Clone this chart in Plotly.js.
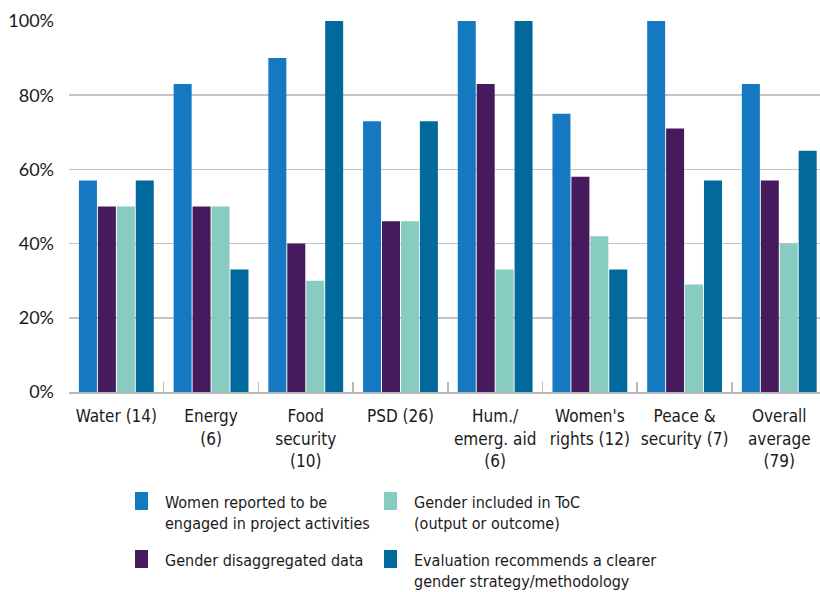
<!DOCTYPE html>
<html>
<head>
<meta charset="utf-8">
<script src="https://cdn.plot.ly/plotly-3.0.1.min.js"></script>
<style>html,body{margin:0;padding:0;background:#fff;overflow:hidden}</style>
</head>
<body>
<div id="chart" style="width:820px;height:592px"></div>
<script>
const categories = ["Water (14)", "Energy<br>(6)", "Food<br>security<br>(10)", "PSD (26)", "Hum./<br>emerg. aid<br>(6)", "Women's<br>rights (12)", "Peace &<br>security (7)", "Overall<br>average<br>(79)"];
const seriesNames = ["Women reported to be<br>engaged in project activities", "Gender disaggregated data", "Gender included in ToC<br>(output or outcome)", "Evaluation recommends a clearer<br>gender strategy/methodology"];
const womenEngaged = [57, 83, 90, 73, 100, 75, 100, 83];
const genderDisaggregated = [50, 50, 40, 46, 83, 58, 71, 57];
const genderInToC = [50, 50, 30, 46, 33, 42, 29, 40];
const clearerStrategy = [57, 33, 100, 73, 100, 33, 57, 65];
const yTicks = [0, 20, 40, 60, 80, 100];
const yTickText = ["0%", "20%", "40%", "60%", "80%", "100%"];

const colors = ["#1479c0", "#461a5d", "#88cbc0", "#02699d"];
const values = [womenEngaged, genderDisaggregated, genderInToC, clearerStrategy];
const font = "DejaVu Sans Condensed, DejaVu Sans, sans-serif";

// plot area in pixels (for positioning the legend block)
const L = 69, R = 820, T = 21, B = 392;
const px = x => (x - L) / (R - L);
const py = y => (B - y) / (B - T);
// legend slots: [left, top] of swatch for each series
const legendSlots = [[135, 492], [135, 550], [384, 492], [384, 550]];

const traces = values.map((v, i) => ({
  type: "bar",
  x: categories,
  y: v,
  name: seriesNames[i].replace(/<br>/g, " "),
  marker: {color: colors[i], line: {width: 0}},
  hoverinfo: "x+y",
  showlegend: false
}));

const shapes = legendSlots.map((s, i) => ({
  type: "rect", xref: "paper", yref: "paper",
  x0: px(s[0]), x1: px(s[0] + 13), y0: py(s[1]), y1: py(s[1] + 18),
  fillcolor: colors[i], line: {width: 0}
}));

const annotations = legendSlots.map((s, i) => ({
  xref: "paper", yref: "paper",
  x: px(s[0] + 29), y: py(s[1]),
  xanchor: "left", yanchor: "top", align: "left",
  text: seriesNames[i], showarrow: false, borderpad: 0,
  font: {family: font, size: 16, color: "#1a1a1a"}
}));

const layout = {
  width: 820, height: 592,
  margin: {l: L, r: 820 - R, t: T, b: 592 - B},
  paper_bgcolor: "#fff", plot_bgcolor: "#fff",
  barmode: "group", bargap: 0.2, bargroupgap: 0.05,
  font: {family: font, size: 16, color: "#1a1a1a"},
  showlegend: false,
  shapes: shapes,
  annotations: annotations,
  xaxis: {
    type: "category", range: [-0.5, 7.43], fixedrange: true,
    showline: true, linecolor: "#b8b8b8", linewidth: 2,
    ticks: "inside", tickson: "boundaries", ticklen: 10, tickwidth: 1.5, tickcolor: "#b8b8b8",
    tickfont: {family: font, size: 17, color: "#1a1a1a"},
    ticklabelstandoff: 8, showgrid: false, tickangle: 0
  },
  yaxis: {
    range: [0, 100], tickmode: "array", tickvals: yTicks, ticktext: yTickText, fixedrange: true,
    showgrid: true, gridcolor: "#c4c4c4", gridwidth: 1.5,
    showline: false, zeroline: false, ticks: "",
    tickfont: {family: "Lato, sans-serif", size: 18, color: "#1a1a1a"},
    ticklabelstandoff: 14
  }
};

Plotly.newPlot("chart", traces, layout, {displayModeBar: false, staticPlot: true});
</script>
</body>
</html>
